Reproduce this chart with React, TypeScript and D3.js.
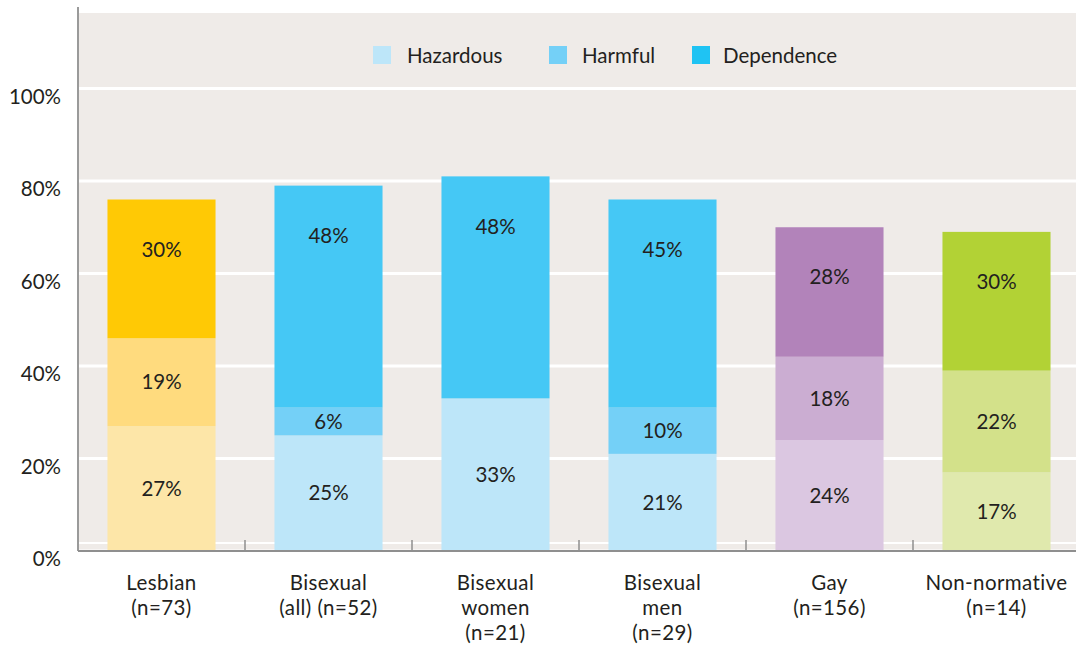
import React from "react";
import * as d3 from "d3";

const categories = [
  ["Lesbian", "(n=73)"],
  ["Bisexual", "(all) (n=52)"],
  ["Bisexual", "women", "(n=21)"],
  ["Bisexual", "men", "(n=29)"],
  ["Gay", "(n=156)"],
  ["Non-normative", "(n=14)"],
];
const hazardous = [27, 25, 33, 21, 24, 17];
const harmful = [19, 6, 0, 10, 18, 22];
const dependence = [30, 48, 48, 45, 28, 30];
const seriesNames = ["Hazardous", "Harmful", "Dependence"];
const yTicks = [0, 20, 40, 60, 80, 100];

// light, mid, dark per category group
const palettes = [
  ["#fde6a8", "#ffdb7e", "#ffc905"],
  ["#bde6f9", "#74d0f7", "#45c8f5"],
  ["#bde6f9", "#74d0f7", "#45c8f5"],
  ["#bde6f9", "#74d0f7", "#45c8f5"],
  ["#dbc7e1", "#cbadd2", "#b283ba"],
  ["#e0e9ad", "#d3e18a", "#b2d235"],
];
const legendColors = ["#bde6f9", "#74d0f7", "#1fc3f3"];

const W = 1076;
const H = 648;
const left = 78;
const right = 1080;
const font = "Lato, 'Noto Sans', sans-serif";
const textColor = "#231f20";
const fs = 20.5;

export default function App() {
  const x = d3
    .scaleBand<number>()
    .domain(d3.range(categories.length))
    .range([left, right])
    .paddingInner(0.353)
    .paddingOuter(0.1765);
  const y = d3.scaleLinear().domain([0, 100]).range([551, 88.5]);

  const rows = categories.map((_, i) => ({
    i,
    Hazardous: hazardous[i],
    Harmful: harmful[i],
    Dependence: dependence[i],
  }));
  const stacked = d3.stack<any>().keys(seriesNames)(rows);

  const step = x.step();
  const boundaries = d3.range(1, categories.length).map((k) => left + k * step);

  return (
    <svg
      width={W}
      height={H}
      style={{ position: "absolute", left: 0, top: 0, background: "#fff" }}
      fontFamily={font}
    >
      <rect x={left} y={13} width={W - left} height={y(0) - 13} fill="#efebe8" />
      {yTicks.map((t) => (
        <line key={t} x1={left} x2={W} y1={y(t)} y2={y(t)} stroke="#fff" strokeWidth={3} />
      ))}
      <line x1={left} x2={W} y1={543} y2={543} stroke="#fff" strokeWidth={2} />

      {stacked.map((layer, si) =>
        layer.map((d, ci) => {
          const v = d[1] - d[0];
          if (v <= 0) return null;
          const top = y(d[1]);
          const bot = y(d[0]);
          const isTop = si === seriesNames.length - 1;
          const ly = isTop ? Math.min((top + bot) / 2, top + 50) : (top + bot) / 2;
          return (
            <g key={`${si}-${ci}`}>
              <rect
                x={x(ci)}
                y={top}
                width={x.bandwidth()}
                height={bot - top}
                fill={palettes[ci][si]}
              />
              <text
                x={(x(ci) as number) + x.bandwidth() / 2}
                y={ly}
                dy="0.35em"
                textAnchor="middle"
                fontSize={fs}
                fill={textColor}
              >
                {v}%
              </text>
            </g>
          );
        })
      )}

      {/* axes */}
      <line x1={left} x2={left} y1={7} y2={y(0)} stroke="#9a9a9a" strokeWidth={2} />
      <line x1={left} x2={W} y1={y(0)} y2={y(0)} stroke="#8f8f8f" strokeWidth={2} />
      {boundaries.map((bx, k) => (
        <line key={k} x1={bx} x2={bx} y1={y(0)} y2={y(0) - 11} stroke="#8f8f8f" strokeWidth={1.5} />
      ))}
      {yTicks.map((t) => (
        <text
          key={t}
          x={61}
          y={y(t) + 8}
          dy="0.35em"
          textAnchor="end"
          fontSize={fs}
          fill={textColor}
        >
          {t}%
        </text>
      ))}
      {categories.map((lines, ci) => (
        <text
          key={ci}
          x={(x(ci) as number) + x.bandwidth() / 2}
          textAnchor="middle"
          fontSize={fs}
          letterSpacing={0.4}
          fill={textColor}
        >
          {lines.map((ln, li) => (
            <tspan key={li} x={(x(ci) as number) + x.bandwidth() / 2} y={590 + li * 25}>
              {ln}
            </tspan>
          ))}
        </text>
      ))}

      {/* legend */}
      {[
        [373, 407],
        [549, 582],
        [692, 723],
      ].map(([sx, tx], i) => (
        <g key={i}>
          <rect x={sx} y={46} width={18} height={18} fill={legendColors[i]} />
          <text x={tx} y={56} dy="0.35em" fontSize={fs} fill={textColor}>
            {seriesNames[i]}
          </text>
        </g>
      ))}
    </svg>
  );
}
